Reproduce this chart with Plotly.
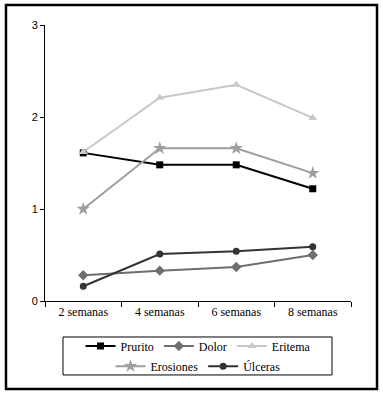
import plotly.graph_objects as go

categories = ["2 semanas", "4 semanas", "6 semanas", "8 semanas"]
prurito = [1.61, 1.48, 1.48, 1.22]
dolor = [0.28, 0.33, 0.37, 0.50]
eritema = [1.62, 2.21, 2.35, 1.99]
erosiones = [1.00, 1.66, 1.66, 1.39]
ulceras = [0.16, 0.51, 0.54, 0.59]
y_ticks = [0, 1, 2, 3]

series = [
    ("Prurito", prurito, "#000000", "square", 7, "legend"),
    ("Dolor", dolor, "#6e6e6e", "diamond", 8, "legend"),
    ("Eritema", eritema, "#c8c8c8", "triangle-up", 8, "legend"),
    ("Erosiones", erosiones, "#9e9e9e", "star", 10, "legend2"),
    ("Úlceras", ulceras, "#333333", "circle", 7, "legend2"),
]

fig = go.Figure()
for name, vals, col, sym, sz, lg in series:
    fig.add_trace(go.Scatter(
        x=categories, y=vals, name=name, mode="lines+markers",
        line=dict(color=col, width=2),
        marker=dict(symbol=sym, size=sz, color=col),
        legend=lg,
    ))

serif = "Liberation Serif"
fig.update_layout(
    width=383, height=395,
    margin=dict(l=45, r=32, t=25, b=94),
    plot_bgcolor="white", paper_bgcolor="white",
    xaxis=dict(
        range=[-0.5, 3.5],
        showline=True, linecolor="black", linewidth=1,
        ticks="outside", tickson="boundaries", ticklen=5, tickcolor="black",
        showgrid=False, zeroline=False,
        tickfont=dict(family=serif, size=12, color="black"),
    ),
    yaxis=dict(
        range=[0, 3], tickvals=y_ticks,
        showline=True, linecolor="black", linewidth=1,
        ticks="outside", ticklen=4, tickcolor="black",
        showgrid=False, zeroline=False,
        tickfont=dict(family="Liberation Sans", size=11, color="black"),
    ),
    legend=dict(
        orientation="h", x=0.5, xanchor="center", y=-0.163, yanchor="middle",
        font=dict(family=serif, size=12, color="black"),
        itemwidth=30, bgcolor="rgba(0,0,0,0)",
    ),
    legend2=dict(
        orientation="h", x=0.5, xanchor="center", y=-0.236, yanchor="middle",
        font=dict(family=serif, size=12, color="black"),
        itemwidth=30, bgcolor="rgba(0,0,0,0)",
    ),
    shapes=[
        dict(type="rect", xref="paper", yref="paper",
             x0=-0.1275, x1=1.085, y0=-0.3188, y1=1.0725,
             line=dict(color="black", width=2.5)),
        dict(type="rect", xref="paper", yref="paper",
             x0=0.0588, x1=0.938, y0=-0.268, y1=-0.1304,
             line=dict(color="black", width=1)),
    ],
)

fig.write_html("out.html", config={"displayModeBar": False},
               post_script="document.body.style.margin='0';")
